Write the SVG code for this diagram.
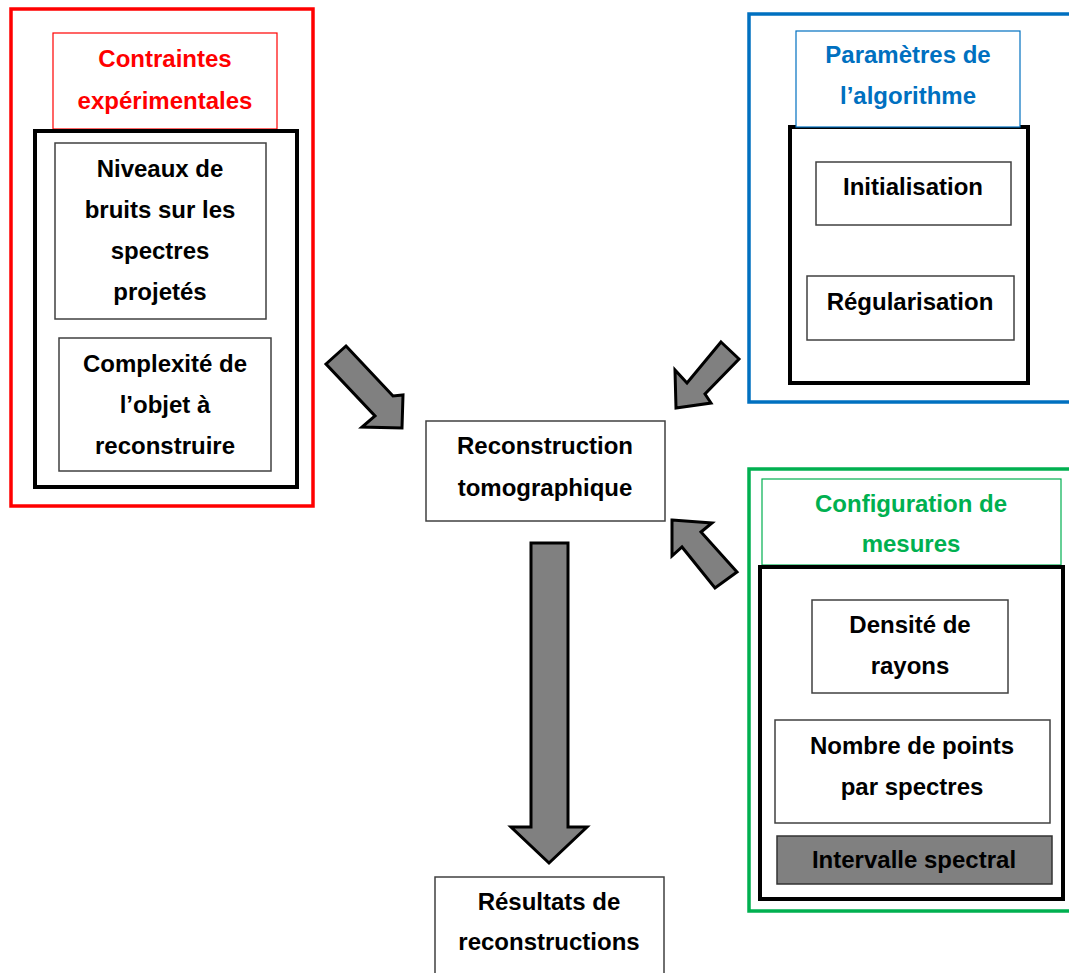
<svg xmlns="http://www.w3.org/2000/svg" width="1069" height="973" viewBox="0 0 1069 973">
<style>
text{font-family:"Liberation Sans",Arial,sans-serif;font-weight:bold;font-size:24px;text-anchor:middle;fill:#000}
.red{fill:#FF0000}.blue{fill:#0070C0}.green{fill:#00B050}
.inner{fill:#fff;stroke:#404040;stroke-width:1.5}
.frame{fill:#fff;stroke:#000;stroke-width:4}
.arrow{fill:#808080;stroke:#000;stroke-width:3;stroke-linejoin:miter}
</style>
<rect width="1069" height="973" fill="#fff"/>
<g id="contraintes">
<rect x="11" y="9" width="302" height="497" fill="#fff" stroke="#FF0000" stroke-width="3.5"/>
<rect x="53" y="33" width="224" height="96" fill="#fff" stroke="#FF0000" stroke-width="1.2"/>
<text class="red" x="165" y="67">Contraintes</text>
<text class="red" x="165" y="109">expérimentales</text>
<rect class="frame" x="35" y="131" width="262" height="356"/>
<rect class="inner" x="55" y="143" width="211" height="176"/>
<text x="160" y="177">Niveaux de</text>
<text x="160" y="218">bruits sur les</text>
<text x="160" y="259">spectres</text>
<text x="160" y="300">projetés</text>
<rect class="inner" x="59" y="338" width="212" height="133"/>
<text x="165" y="372">Complexité de</text>
<text x="165" y="413">l’objet à</text>
<text x="165" y="454">reconstruire</text>
</g>
<g id="parametres">
<rect x="749" y="14" width="330" height="388" fill="#fff" stroke="#0070C0" stroke-width="3.5"/>
<rect class="frame" x="790" y="127" width="238" height="256"/>
<rect x="796" y="31" width="224" height="96" fill="#fff" stroke="#0070C0" stroke-width="1.2"/>
<text class="blue" x="908" y="63">Paramètres de</text>
<text class="blue" x="908" y="104">l’algorithme</text>
<rect class="inner" x="816" y="162" width="195" height="63"/>
<text x="913" y="195">Initialisation</text>
<rect class="inner" x="807" y="276" width="207" height="64"/>
<text x="910" y="310">Régularisation</text>
</g>
<g id="configuration">
<rect x="749" y="469" width="330" height="442" fill="#fff" stroke="#00B050" stroke-width="3.5"/>
<rect x="762" y="479" width="299" height="86" fill="#fff" stroke="#00B050" stroke-width="1.2"/>
<text class="green" x="911" y="512">Configuration de</text>
<text class="green" x="911" y="552">mesures</text>
<rect class="frame" x="760" y="567" width="303" height="332"/>
<rect class="inner" x="812" y="600" width="196" height="93"/>
<text x="910" y="633">Densité de</text>
<text x="910" y="674">rayons</text>
<rect class="inner" x="775" y="720" width="275" height="103"/>
<text x="912" y="754">Nombre de points</text>
<text x="912" y="795">par spectres</text>
<rect x="777" y="836" width="275" height="48" fill="#808080" stroke="#333" stroke-width="1.5"/>
<text x="914" y="868">Intervalle spectral</text>
</g>
<g id="reconstruction">
<rect class="inner" x="426" y="421" width="239" height="100"/>
<text x="545" y="454">Reconstruction</text>
<text x="545" y="496">tomographique</text>
</g>
<g id="resultats">
<rect class="inner" x="435" y="877" width="229" height="100"/>
<text x="549" y="910">Résultats de</text>
<text x="549" y="950">reconstructions</text>
</g>
<g id="connectors">
<polygon class="arrow" points="346,346 393,396 403,395 402,428 362,427 375,416 326,364"/>
<polygon class="arrow" points="721,342 739,359 705,394 711,403 676,408 675,370 687,383"/>
<polygon class="arrow" points="672,520 712,523 701,532 737,572 715,588 682,547 672,556"/>
<polygon class="arrow" points="531,543 568,543 568,827 587,827 549,863 511,827 531,827"/>
</g>
</svg>
